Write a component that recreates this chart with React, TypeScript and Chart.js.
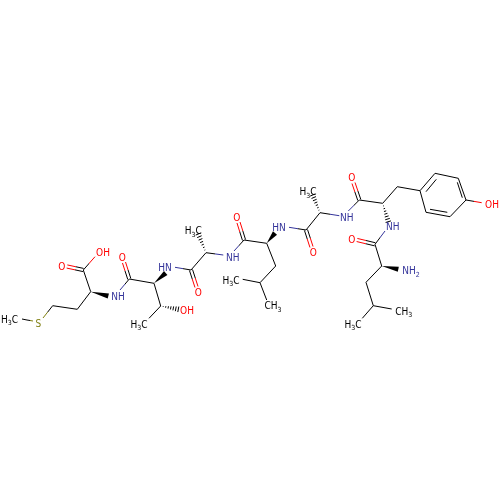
import { useEffect, useRef } from "react";
import { Chart, registerables } from "chart.js";

Chart.register(...registerables);

const NITROGEN = "#33339a";
const OXYGEN = "#ff0000";
const SULFUR = "#7f7f10";
const CARBON = "#000000";
const LABEL_FONT = "10px 'DejaVu Sans Condensed', 'DejaVu Sans'";
const SUB_FONT = "7px 'DejaVu Sans Condensed', 'DejaVu Sans'";

// [x1, y1, x2, y2]
const carbonBonds = [
  [22, 319, 27, 320], [52.7, 305.7, 77.3, 309.3], [77.3, 309.3, 90.7, 291.7],
  [90.7, 291.7, 83.3, 270], [129.3, 279, 154, 283.3], [154, 283.3, 160.7, 306],
  [160.7, 306, 149, 318.3], [191, 270, 206, 252.7], [244, 240, 266.7, 243.3],
  [266.7, 243.3, 275.7, 266], [275.7, 266, 260, 282.7], [260, 282.7, 242.7, 279.3],
  [260, 282.7, 266.7, 300], [306, 230, 320, 212.7], [359.3, 200, 382.7, 203.3],
  [382.7, 203.3, 397.3, 186.7], [397.3, 186.7, 420, 190.7],
  [420, 190.7, 435, 173.3], [435, 173.3, 458.3, 178.3], [458.3, 178.3, 466, 200],
  [466, 200, 450, 216.7], [450, 216.7, 426, 212.3], [426, 212.3, 420, 190.7],
  [426, 191.7, 436.3, 179.3], [457.3, 182.3, 462.3, 197.7], [447.3, 212.3, 430, 209.3],
  [375, 244.3, 381.7, 266], [381.7, 266, 366, 282.3], [366, 282.3, 373.3, 305.7],
  [373.3, 305.7, 391.7, 309], [373.3, 305.7, 362.3, 318.3],
];

// second end is the heteroatom
const nitrogenBonds = [
  [129.3, 279, 120, 290], [191, 270, 175, 267.3], [206, 252.7, 223.3, 255],
  [244, 240, 234, 251], [306, 230, 289, 227.3], [320, 212.7, 339.3, 215.7],
  [359.3, 200, 348.3, 211], [375, 244.3, 385, 231],
];
const oxygenBonds = [[83.3, 270, 95, 256.7], [466, 200, 481.7, 202.7]];
const sulfurBonds = [[52.7, 305.7, 43, 318], [27, 320, 33, 321]];
const carbonylBonds = [
  [83.3, 270, 67, 266.5], [129.3, 279, 124, 262.5], [191, 270, 196.5, 287],
  [244, 240, 238.5, 222.5], [306, 230, 311.5, 247], [359.3, 200, 353.5, 183],
  [375, 244.3, 357, 240],
];

const wedges = [
  [90.7, 291.7, 108.3, 296], [154, 283.3, 165.7, 273], [266.7, 243.3, 275, 233],
  [381.7, 266, 398.3, 269.3],
];
const hashes = [
  [160.7, 306, 178.3, 309.3], [206, 252.7, 198.3, 234], [320, 212.7, 312.7, 195],
  [382.7, 203.3, 388.3, 221.7],
];

// text, centre x, centre y, colour
const atomLabels: [string, number, number, string][] = [
  ["H3C", 9.5, 319, CARBON], ["S", 38.3, 323.3, SULFUR], ["O", 61.7, 266.7, OXYGEN],
  ["OH", 103, 252.5, OXYGEN], ["NH", 118, 296.7, NITROGEN], ["O", 122.3, 257.5, OXYGEN],
  ["H3C", 139, 324, CARBON], ["OH", 187, 310.7, OXYGEN], ["HN", 165, 267.3, NITROGEN],
  ["H3C", 193.3, 230.7, CARBON], ["O", 198.3, 292.3, OXYGEN], ["NH", 232.7, 257.3, NITROGEN],
  ["O", 236.7, 217.3, OXYGEN], ["H3C", 231, 280, CARBON], ["CH3", 273, 305.7, CARBON],
  ["HN", 279, 227, NITROGEN], ["O", 313.3, 252.3, OXYGEN], ["H3C", 308, 191.7, CARBON],
  ["NH", 346.7, 217.7, NITROGEN], ["O", 351.7, 177.7, OXYGEN], ["OH", 492, 204.3, OXYGEN],
  ["NH", 392.7, 226.7, NITROGEN], ["O", 351.7, 239.3, OXYGEN], ["NH2", 411, 270.7, NITROGEN],
  ["CH3", 403.7, 311, CARBON], ["H3C", 353, 324, CARBON],
];

function bondDataset(bond: number[], endColor: string, offset = 0) {
  const [x1, y1, x2, y2] = bond;
  const len = Math.hypot(x2 - x1, y2 - y1);
  const ox = (-(y2 - y1) / len) * offset;
  const oy = ((x2 - x1) / len) * offset;
  return {
    data: [{ x: x1 + ox, y: y1 + oy }, { x: x2 + ox, y: y2 + oy }],
    showLine: true,
    pointRadius: 0,
    borderWidth: 1,
    borderColor: (ctx: any) => {
      if (endColor === CARBON) return CARBON;
      const { x, y } = ctx.chart.scales;
      if (!x || !y) return endColor;
      const coords = [
        x.getPixelForValue(x1 + ox), y.getPixelForValue(y1 + oy),
        x.getPixelForValue(x2 + ox), y.getPixelForValue(y2 + oy),
      ];
      if (!coords.every(Number.isFinite)) return endColor;
      const g = ctx.chart.ctx.createLinearGradient(coords[0], coords[1], coords[2], coords[3]);
      g.addColorStop(0, CARBON);
      g.addColorStop(0.5, CARBON);
      g.addColorStop(0.5, endColor);
      g.addColorStop(1, endColor);
      return g;
    },
  };
}

const moleculeMarks = {
  id: "moleculeMarks",
  afterDatasetsDraw(chart: any) {
    const { ctx, scales } = chart;
    const px = (v: number) => scales.x.getPixelForValue(v);
    const py = (v: number) => scales.y.getPixelForValue(v);
    ctx.save();
    ctx.fillStyle = CARBON;
    ctx.strokeStyle = CARBON;
    ctx.lineWidth = 1;

    for (const [x1, y1, x2, y2] of wedges) {
      const a = Math.atan2(py(y2) - py(y1), px(x2) - px(x1)) + Math.PI / 2;
      const dx = Math.cos(a) * 2.6;
      const dy = Math.sin(a) * 2.6;
      ctx.beginPath();
      ctx.moveTo(px(x1), py(y1));
      ctx.lineTo(px(x2) + dx, py(y2) + dy);
      ctx.lineTo(px(x2) - dx, py(y2) - dy);
      ctx.closePath();
      ctx.fill();
    }

    for (const [x1, y1, x2, y2] of hashes) {
      const a = Math.atan2(py(y2) - py(y1), px(x2) - px(x1)) + Math.PI / 2;
      const steps = 7;
      for (let i = 1; i <= steps; i++) {
        const t = i / steps;
        const cx = px(x1) + (px(x2) - px(x1)) * t;
        const cy = py(y1) + (py(y2) - py(y1)) * t;
        const r = 2.8 * t;
        ctx.beginPath();
        ctx.moveTo(cx - Math.cos(a) * r, cy - Math.sin(a) * r);
        ctx.lineTo(cx + Math.cos(a) * r, cy + Math.sin(a) * r);
        ctx.stroke();
      }
    }

    // labels, digits are subscripts
    ctx.textBaseline = "alphabetic";
    ctx.textAlign = "left";
    for (const [text, x, y, color] of atomLabels) {
      const parts = text.split("");
      let width = 0;
      for (const p of parts) {
        ctx.font = /\d/.test(p) ? SUB_FONT : LABEL_FONT;
        width += ctx.measureText(p).width;
      }
      let cur = px(x) - width / 2;
      ctx.fillStyle = color;
      for (const p of parts) {
        const sub = /\d/.test(p);
        ctx.font = sub ? SUB_FONT : LABEL_FONT;
        ctx.fillText(p, cur, py(y) + 3.7 + (sub ? 2.5 : 0));
        cur += ctx.measureText(p).width;
      }
    }
    ctx.restore();
  },
};

export default function App() {
  const chartRef = useRef<HTMLCanvasElement>(null);

  useEffect(() => {
    if (!chartRef.current) return;
    document.body.style.margin = "0";

    const datasets = [
      ...carbonBonds.map((b) => bondDataset(b, CARBON)),
      ...nitrogenBonds.map((b) => bondDataset(b, NITROGEN)),
      ...oxygenBonds.map((b) => bondDataset(b, OXYGEN)),
      ...sulfurBonds.map((b) => bondDataset(b, SULFUR)),
      ...carbonylBonds.flatMap((b) => [
        bondDataset(b, OXYGEN, 1.6),
        bondDataset(b, OXYGEN, -1.6),
      ]),
    ];

    const chart = new Chart(chartRef.current, {
      type: "scatter",
      data: { datasets },
      options: {
        animation: false,
        responsive: false,
        layout: { padding: 0 },
        plugins: { legend: { display: false }, tooltip: { enabled: false } },
        scales: {
          x: { type: "linear", min: 0, max: 500, display: false },
          y: { type: "linear", min: 0, max: 500, reverse: true, display: false },
        },
      },
      plugins: [moleculeMarks],
    });

    return () => chart.destroy();
  }, []);

  return (
    <div style={{ width: 500, height: 500, background: "#fff" }}>
      <canvas ref={chartRef} width={500} height={500} style={{ display: "block" }}></canvas>
    </div>
  );
}
